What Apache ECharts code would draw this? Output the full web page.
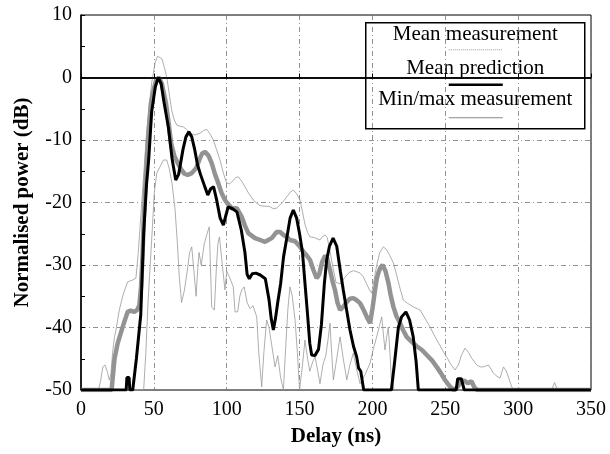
<!DOCTYPE html>
<html>
<head>
<meta charset="utf-8">
<title>Normalised power vs delay</title>
<script src="https://cdn.jsdelivr.net/npm/echarts@6/dist/echarts.min.js"></script>
<style>
  html, body { margin: 0; padding: 0; background: #fff; }
  #chart { width: 610px; height: 454px; }
</style>
</head>
<body>
<div id="chart"></div>
<script>
// axis ticks
var xTicks = [0, 50, 100, 150, 200, 250, 300, 350];
var yTicks = [-50, -40, -30, -20, -10, 0, 10];

// [delay ns, power dB]
var meanPrediction = [
  [0,-50],[31,-50],[31.5,-48],[33,-48],[33.5,-50],[35.5,-50],[38,-45],[41,-38],[43,-25],[45,-17],
  [46.5,-13],[48.5,-5.5],[51,-1.5],[53,0],[55,-1],[57,-4],[60,-8],[62.5,-13],[65,-16.4],[67,-15.5],
  [70,-11.5],[72,-9.5],[74,-8.7],[76,-9.5],[78,-11.5],[80,-14],[82,-15.5],[85,-17.5],[87,-18.8],[89,-17.8],
  [91,-17.5],[93,-19.5],[95.5,-22.5],[97.7,-23.6],[99.5,-22],[101,-20.7],[104,-21],[107,-21.5],[110,-24.4],[112.5,-28],
  [114,-31.5],[115.5,-32.2],[117.5,-31.4],[120,-31.3],[123,-31.6],[126.5,-32.2],[129,-35.5],[130.5,-38.5],[132,-40.4],[133.5,-38.5],
  [135,-36],[137,-33],[139,-28.7],[141,-26],[143.5,-22.5],[145.7,-21.2],[148,-22.5],[150,-25],[152,-28],[153.7,-32.9],
  [155.5,-38],[157,-42.5],[158.3,-44.4],[160.5,-44.5],[163,-43.5],[165,-39.5],[167,-33],[168.6,-29.2],[170.5,-27],[173,-25.7],
  [175.5,-27],[178,-31],[180,-34],[182.5,-37.5],[184.6,-40.4],[187,-43],[189.2,-44.7],[190.5,-46.5],[192,-47],[193,-48.5],
  [194,-50],[213,-50],[215,-46],[217.8,-40],[220,-38.3],[223,-37.5],[225.5,-38.8],[228,-41.5],[230,-45.5],[231.5,-50],
  [257.5,-50],[258.5,-48.2],[261,-48.2],[263,-50],[350,-50]
];

var meanMeasurement = [
  [0,-50],[21,-50],[22,-47.5],[23,-45],[25.2,-42.5],[28.6,-39.9],[32,-37.5],[34,-37.3],[36.6,-37.5],[38.5,-37.2],
  [40,-36.5],[41.2,-33.5],[42.3,-28.1],[43,-23],[44,-18],[45.8,-10.5],[47,-7],[48,-4.1],[50,-1.8],[51.5,-0.5],
  [53.5,0],[55.5,-1],[58.3,-4.1],[60,-7],[61.8,-10.5],[64,-12.5],[66.4,-13.7],[69,-14.8],[71,-15.4],[73.2,-15.6],
  [76,-15.3],[79,-14.5],[81.2,-13.2],[83,-12.2],[85.1,-11.9],[87.5,-12.5],[89.7,-13.7],[92,-15.5],[94.2,-16.9],[96.5,-18.5],
  [98.8,-19.6],[101,-20.3],[103.4,-20.9],[106.9,-20.9],[110.3,-22.3],[112.5,-23.7],[114.8,-24.9],[119.4,-25.7],[123,-26],[126.3,-26.3],
  [128.5,-26],[130.9,-25.7],[134.3,-24.7],[136.6,-24.7],[139,-25.2],[141.2,-25.5],[143.4,-26],[146.9,-26.2],[150.3,-27.1],[153,-28],
  [155,-28.5],[157.2,-29.2],[159.5,-30.8],[161.7,-32.1],[163.5,-31.5],[165.5,-29.5],[167.5,-28.5],[169,-29],[170.9,-30.8],[172.5,-32.5],
  [174.3,-34],[176,-36],[177.8,-37.2],[180,-36.7],[182.4,-35.9],[184.5,-35.4],[186.9,-35.3],[189,-35.6],[191.5,-36.1],[194,-37.2],
  [196.1,-38.3],[198.4,-39.3],[200,-37],[201.8,-34],[203,-32.2],[204,-31.3],[205.5,-30.4],[207,-30],[209,-31],[211,-32.9],
  [212.5,-34.8],[214.4,-36.7],[216.5,-38.2],[219,-39.3],[221,-40.4],[223.5,-41.5],[227,-42.3],[230.4,-43],[234,-43.6],[237.3,-44.4],
  [241,-45.3],[244.1,-46.3],[247,-47.3],[249.8,-48.4],[253.3,-49.5],[256,-50],[258.5,-49.5],[260.5,-48.7],[263,-48.5],[265.5,-48.9],
  [268,-48.6],[270,-49.6],[272,-50],[350,-50]
];

var maxMeasurement = [
  [0,-50],[12,-50],[13.5,-48.5],[15,-46.3],[16.5,-46],[18,-47],[19.4,-48.4],[20.5,-47.5],[21.7,-44],[23,-41.5],
  [24,-40.4],[26.3,-37.2],[28.6,-35],[30.3,-33.8],[32,-32.7],[35.5,-32.4],[37.7,-32.1],[39.3,-28],[40.5,-24],[42,-19],
  [43.5,-14],[45,-8.9],[46.8,-4.5],[48.5,-0.9],[50.8,2.3],[52.5,3.4],[53.8,3.6],[55.5,3],[57,1.8],[58.8,0.1],
  [60.5,-2.5],[62.2,-5.2],[64,-6.8],[65.7,-7.6],[68,-7.8],[70.2,-7.9],[72.5,-8.3],[74.8,-8.9],[78,-9.2],[81.7,-8.9],
  [84,-8.5],[86.3,-8.3],[88.5,-9],[90.8,-10],[93,-11.5],[95.4,-13.2],[97.7,-15.3],[100,-16.9],[102,-17],[104.5,-16.5],
  [106,-16],[108,-15.9],[110,-16.5],[112.6,-17.5],[115,-18.5],[118.3,-19.6],[120.6,-20.1],[122.9,-20.5],[126.3,-20.6],[129,-20.6],
  [132,-21],[134.3,-20.9],[136.5,-20.4],[138.9,-19.8],[141.5,-19],[143.5,-18.4],[145.7,-18],[148,-18.6],[150.3,-19.6],[152,-21.5],
  [153.7,-23.5],[155.5,-24.8],[157.2,-25.5],[160,-25.6],[162,-25.8],[164,-26],[165.5,-25.5],[167.5,-25.2],[169,-25.6],[171,-28],
  [173,-30.5],[175,-32.8],[178,-33],[181,-32],[184,-31.2],[187,-30.9],[189.5,-31.1],[191.5,-31.3],[193.8,-31.9],[196,-33],
  [198,-34],[199.5,-34.5],[201,-32.5],[203,-30],[205,-28],[207.5,-27.1],[209.5,-27.5],[212,-28.5],[214.4,-29.7],[216.5,-31.5],
  [219,-33.8],[221.2,-35.6],[224,-36.1],[228,-36.7],[232.7,-37.2],[236,-38.5],[239.5,-39.9],[243,-41.5],[246.4,-42.9],[249,-44],
  [251,-44.7],[253.5,-45.8],[256.7,-46.8],[259,-46],[261,-44.5],[263.5,-43.3],[266,-44],[268.1,-44.9],[271.6,-46],[274,-46.3],
  [276.1,-46.3],[279.6,-46],[281.5,-46.7],[283,-47.3],[285.5,-47.8],[287.6,-48.1],[289.9,-46.3],[291.5,-46.8],[293.3,-47.9],[295.6,-49.5],
  [297,-50],[323,-50],[325,-48.8],[327,-50],[350,-50]
];

var minMeasurement = [
  [0,-50],[43,-50],[44.5,-44],[46,-36],[47.5,-30],[49,-24],[50.3,-18.5],[52,-15.3],[54.2,-14.3],[56.5,-13.2],
  [58.8,-13.2],[60.5,-14.5],[62.5,-17],[64.5,-21],[66,-26],[67.5,-32],[69,-36],[70,-36.2],[71,-34],[73,-30.8],
  [74.5,-28],[76,-27.1],[77.5,-31],[79,-35],[80,-31],[81,-28],[82.5,-30],[84.6,-26.6],[86.5,-25],[88,-23.9],
  [89.7,-36.7],[91.5,-37.2],[93,-30],[94,-26.5],[95,-25.5],[97,-30],[98.8,-34],[100,-31],[102,-32],[104.5,-33.5],
  [105.7,-37.5],[107.5,-37.5],[109,-35],[110.3,-34],[112,-33.5],[114,-36],[116,-37],[118,-36.5],[120.6,-38.3],[122,-44],
  [124,-49.5],[125.5,-44],[127.4,-38.8],[129,-40],[131,-43],[133.2,-46.3],[135,-44.5],[137,-48],[138.9,-50],[140.5,-43],
  [142,-37],[143.4,-33.5],[145,-35],[146.9,-38.8],[148.5,-44],[150,-50],[152,-46],[153.7,-42],[155.5,-45],[157,-47],
  [159,-45.5],[160.6,-44.7],[162.5,-47],[164,-49],[166,-46],[168,-44.5],[169.5,-42],[170.9,-39.3],[172,-44],[173.2,-48.4],
  [175.5,-45],[177.8,-41.5],[180,-45],[182.4,-48.4],[184.5,-46],[186.9,-44.1],[189,-46.5],[191.5,-49],[195,-47.5],[198.4,-45.7],
  [200.5,-43.5],[202.9,-41.5],[204.5,-40],[206.4,-38.3],[207.5,-41],[208.6,-43.6],[209.8,-41.5],[210.9,-39.9],[212,-44],[213,-48.4],
  [215,-50],[350,-50]
];

var legendNames = ['Mean measurement', 'Mean prediction', 'Min/max measurement'];

var serif = '"Liberation Serif", "DejaVu Serif", serif';

var chart = echarts.init(document.getElementById('chart'), null, { renderer: 'canvas' });

var option = {
  animation: false,
  backgroundColor: '#fff',
  grid: {
    left: 81, right: 19, top: 15, bottom: 64,
    show: true, borderColor: '#000', borderWidth: 1
  },
  xAxis: {
    type: 'value',
    min: xTicks[0], max: xTicks[xTicks.length - 1], interval: 50,
    name: 'Delay (ns)',
    nameLocation: 'middle',
    nameGap: 36,
    nameTextStyle: { fontFamily: serif, fontWeight: 'bold', fontSize: 21, color: '#000' },
    axisLine: { lineStyle: { color: '#000', width: 1.5 } },
    axisTick: { inside: true, length: 4, lineStyle: { color: '#000' } },
    axisLabel: { fontFamily: serif, fontSize: 20, color: '#000', margin: 10 },
    splitLine: { show: true, lineStyle: { color: '#777', width: 0.8, type: [5, 3, 1, 3] } }
  },
  yAxis: {
    type: 'value',
    min: yTicks[0], max: yTicks[yTicks.length - 1], interval: 10,
    name: 'Normalised power (dB)',
    nameLocation: 'middle',
    nameGap: 48,
    nameTextStyle: { fontFamily: serif, fontWeight: 'bold', fontSize: 21, color: '#000' },
    axisLine: { show: true, lineStyle: { color: '#000', width: 1.5 } },
    axisTick: { inside: true, length: 4, lineStyle: { color: '#000' } },
    minorTick: { show: true, splitNumber: 2, length: 4, lineStyle: { color: '#000' } },
    axisLabel: { fontFamily: serif, fontSize: 20, color: '#000', margin: 9 },
    splitLine: { show: true, lineStyle: { color: '#777', width: 0.8, type: [5, 3, 1, 3] } }
  },
  series: [
    {
      name: legendNames[2], type: 'line', data: maxMeasurement,
      showSymbol: false, z: 2,
      lineStyle: { color: '#999', width: 0.8 }
    },
    {
      name: legendNames[2], type: 'line', data: minMeasurement,
      showSymbol: false, z: 2,
      lineStyle: { color: '#999', width: 0.8 }
    },
    {
      name: legendNames[0], type: 'line', data: meanMeasurement,
      showSymbol: false, z: 3,
      lineStyle: { color: '#939393', width: 4.5 }
    },
    {
      name: legendNames[1], type: 'line', data: meanPrediction,
      showSymbol: false, z: 4,
      lineStyle: { color: '#000', width: 3 },
      markLine: {
        silent: true, symbol: 'none', label: { show: false },
        lineStyle: { color: '#000', width: 1.5, type: 'solid' },
        data: [{ yAxis: 0 }]
      }
    }
  ],
  graphic: [
    {
      type: 'group', left: 365, top: 22, z: 100,
      children: [
        { type: 'rect', shape: { x: 0, y: 0, width: 219, height: 106 },
          style: { fill: '#fff', stroke: '#000', lineWidth: 1.5 } },
        { type: 'text', x: 109.5, y: 12,
          style: { text: legendNames[0], font: '21px ' + serif, fill: '#000', textAlign: 'center', textVerticalAlign: 'middle' } },
        { type: 'line', shape: { x1: 83, y1: 27, x2: 137, y2: 27 },
          style: { stroke: '#999', lineWidth: 1, lineDash: [1, 1] } },
        { type: 'text', x: 109.5, y: 46,
          style: { text: legendNames[1], font: '21px ' + serif, fill: '#000', textAlign: 'center', textVerticalAlign: 'middle' } },
        { type: 'line', shape: { x1: 83, y1: 62, x2: 137, y2: 62 },
          style: { stroke: '#000', lineWidth: 2.5 } },
        { type: 'text', x: 109.5, y: 77,
          style: { text: legendNames[2], font: '21px ' + serif, fill: '#000', textAlign: 'center', textVerticalAlign: 'middle' } },
        { type: 'line', shape: { x1: 83, y1: 95, x2: 137, y2: 95 },
          style: { stroke: '#888', lineWidth: 1 } }
      ]
    }
  ]
};

chart.setOption(option);
</script>
</body>
</html>
